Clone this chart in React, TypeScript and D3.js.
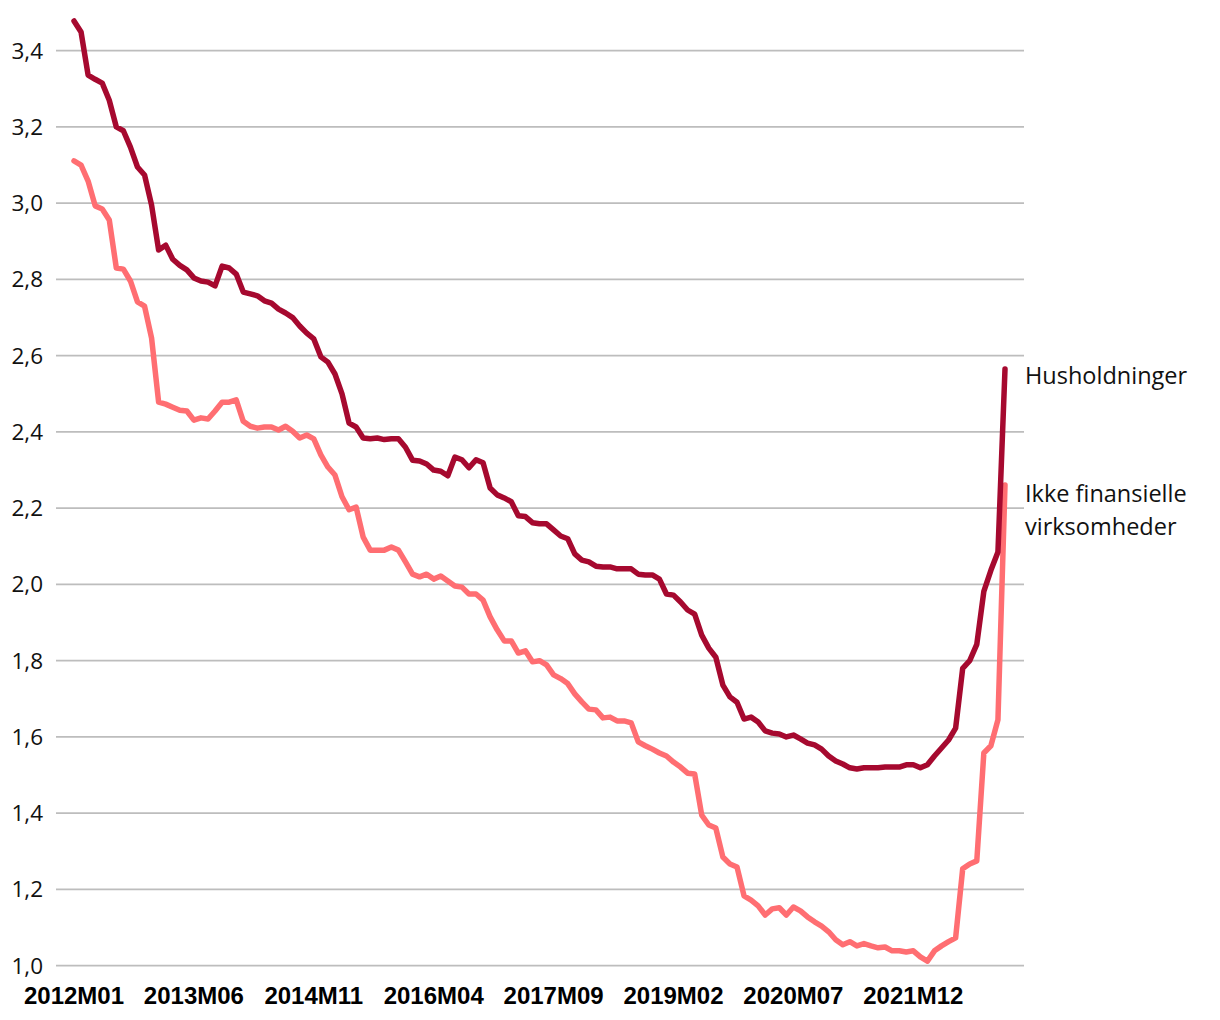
import React from "react";
import * as d3 from "d3";

const months: string[] = (() => {
  const out: string[] = [];
  for (let y = 2012; y <= 2023; y++) {
    for (let m = 1; m <= 12; m++) {
      if (out.length < 133) out.push(`${y}M${String(m).padStart(2, "0")}`);
    }
  }
  return out;
})();

const tickLabels = ["2012M01", "2013M06", "2014M11", "2016M04", "2017M09", "2019M02", "2020M07", "2021M12"];
const yTicks = [1.0, 1.2, 1.4, 1.6, 1.8, 2.0, 2.2, 2.4, 2.6, 2.8, 3.0, 3.2, 3.4];

const husholdninger = [
  3.478, 3.449, 3.336, 3.325, 3.315, 3.27, 3.2, 3.19, 3.147, 3.095,
  3.074, 2.995, 2.877, 2.89, 2.853, 2.837, 2.825, 2.804, 2.796, 2.793,
  2.783, 2.835, 2.83, 2.814, 2.767, 2.762, 2.757, 2.744, 2.738, 2.722,
  2.712, 2.7, 2.678, 2.659, 2.644, 2.597, 2.583, 2.552, 2.5, 2.423,
  2.413, 2.384, 2.382, 2.384, 2.38, 2.382, 2.382, 2.36, 2.326, 2.324,
  2.316, 2.3, 2.297, 2.285, 2.334, 2.327, 2.306, 2.327, 2.319, 2.253,
  2.235, 2.227, 2.217, 2.18, 2.178, 2.162, 2.159, 2.159, 2.143, 2.127,
  2.12, 2.08, 2.064, 2.059, 2.048, 2.046, 2.046, 2.041, 2.041, 2.041,
  2.027, 2.025, 2.025, 2.014, 1.975, 1.972, 1.954, 1.933, 1.922, 1.867,
  1.833, 1.809, 1.736, 1.705, 1.691, 1.647, 1.652, 1.639, 1.616, 1.61,
  1.608, 1.6, 1.605, 1.595, 1.584, 1.579, 1.568, 1.55, 1.537, 1.529,
  1.519, 1.516, 1.519, 1.519, 1.519, 1.521, 1.521, 1.521, 1.527, 1.527,
  1.519, 1.527, 1.55, 1.571, 1.592, 1.623, 1.78, 1.8, 1.843, 1.982,
  2.037, 2.085, 2.565,
];

const ikkeFinansielle = [
  3.111, 3.1, 3.058, 2.993, 2.985, 2.956, 2.83, 2.827, 2.796, 2.741,
  2.73, 2.646, 2.478, 2.473, 2.465, 2.457, 2.455, 2.431, 2.437, 2.434,
  2.455, 2.478, 2.478, 2.484, 2.428, 2.415, 2.41, 2.413, 2.413, 2.405,
  2.415, 2.402, 2.384, 2.392, 2.382, 2.34, 2.308, 2.287, 2.23, 2.196,
  2.203, 2.124, 2.09, 2.09, 2.09, 2.098, 2.09, 2.059, 2.027, 2.02,
  2.027, 2.014, 2.022, 2.009, 1.996, 1.993, 1.975, 1.975, 1.959, 1.915,
  1.881, 1.852, 1.852, 1.82, 1.826, 1.797, 1.8, 1.789, 1.763, 1.753,
  1.74, 1.713, 1.692, 1.673, 1.671, 1.65, 1.652, 1.642, 1.642, 1.637,
  1.587, 1.577, 1.568, 1.558, 1.55, 1.534, 1.521, 1.505, 1.503, 1.395,
  1.369, 1.361, 1.285, 1.267, 1.259, 1.183, 1.172, 1.157, 1.133, 1.149,
  1.152, 1.133, 1.154, 1.144, 1.128, 1.115, 1.104, 1.089, 1.068, 1.055,
  1.063, 1.052, 1.058, 1.052, 1.047, 1.049, 1.039, 1.039, 1.036, 1.039,
  1.023, 1.012, 1.039, 1.052, 1.063, 1.073, 1.254, 1.267, 1.275, 1.558,
  1.577, 1.645, 2.261,
];

const W = 1220;
const H = 1020;

export default function App() {
  const x = d3.scaleLinear().domain([0, months.length - 1]).range([74, 1005]);
  const y = d3.scaleLinear().domain([1.0, 3.4]).range([965.7, 50.7]);
  const line = d3
    .line<number>()
    .x((_, i) => x(i))
    .y((d) => y(d))
    .curve(d3.curveLinear);

  const gridX0 = 56;
  const gridX1 = 1024;

  return (
    <svg
      width={W}
      height={H}
      style={{ position: "absolute", left: 0, top: 0, background: "#fff" }}
    >
      <g>
        {yTicks.map((t) => (
          <line
            key={t}
            x1={gridX0}
            x2={gridX1}
            y1={y(t)}
            y2={y(t)}
            stroke="#bdbdbd"
            strokeWidth={1.8}
          />
        ))}
      </g>
      <g fontFamily="'Open Sans', sans-serif" fontSize={22.5} fill="#111">
        {yTicks.map((t) => (
          <text key={t} x={43} y={y(t) + 8} textAnchor="end">
            {t.toFixed(1).replace(".", ",")}
          </text>
        ))}
      </g>
      <g fontFamily="'Liberation Sans', Arial, sans-serif" fontWeight="bold" fontSize={24} fill="#000">
        {tickLabels.map((lab) => (
          <text key={lab} x={x(months.indexOf(lab))} y={1004} textAnchor="middle">
            {lab}
          </text>
        ))}
      </g>
      <path
        d={line(ikkeFinansielle) || ""}
        fill="none"
        stroke="#ff6e72"
        strokeWidth={5.5}
        strokeLinejoin="round"
        strokeLinecap="round"
      />
      <path
        d={line(husholdninger) || ""}
        fill="none"
        stroke="#a6092f"
        strokeWidth={5.5}
        strokeLinejoin="round"
        strokeLinecap="round"
      />
      <g fontFamily="'Open Sans', sans-serif" fontSize={23.5} fill="#111">
        <text x={1025} y={384}>Husholdninger</text>
        <text x={1025} y={502}>Ikke finansielle</text>
        <text x={1025} y={535}>virksomheder</text>
      </g>
    </svg>
  );
}
